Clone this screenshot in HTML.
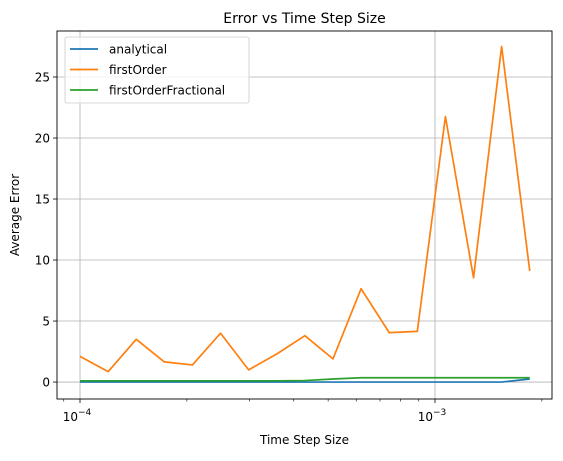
<!DOCTYPE html>
<html><head><meta charset="utf-8"><style>
body{margin:0;background:#fff;font-family:"DejaVu Sans","Liberation Sans",sans-serif;}
svg text{font-family:"DejaVu Sans","Liberation Sans",sans-serif;}
</style></head><body>
<svg id="chart" width="563" height="457" xmlns="http://www.w3.org/2000/svg"></svg>
<script>
const ks = [0,1,2,3,4,5,6,7,8,9,10,11,12,13,14,15,16];
const stepSizes = ks.map(k => 1e-4 * Math.pow(1.2, k));
const analytical = [0,0,0,0,0,0,0,0,0,0,0,0,0,0,0,0,0.25];
const firstOrder = [2.1,0.85,3.5,1.65,1.4,4.0,1.0,2.3,3.8,1.9,7.65,4.05,4.15,21.75,8.55,27.5,9.1];
const firstOrderFractional = [0.1,0.1,0.1,0.1,0.1,0.1,0.1,0.1,0.12,0.25,0.35,0.35,0.35,0.35,0.35,0.35,0.35];
const yTicks = [0,5,10,15,20,25];
const xMajor = [1e-4,1e-3];
const xMajorLabels = ["−4","−3"];

const L=57,R=552,T=31,B=399;
const lx0=-4.0648, lx1=-2.6704, y0=-1.39, y1=28.77;
const X=v=>L+(Math.log10(v)-lx0)/(lx1-lx0)*(R-L);
const Y=v=>B-(v-y0)/(y1-y0)*(B-T);
const svg=document.getElementById('chart');
const NS='http://www.w3.org/2000/svg';
function mk(tag,attrs,parent){const e=document.createElementNS(NS,tag);for(const k in attrs)e.setAttribute(k,attrs[k]);(parent||svg).appendChild(e);return e;}

yTicks.forEach(t=>{
  const g=mk('line',{x1:L,x2:R,y1:Y(t),y2:Y(t),stroke:'#b0b0b0','stroke-width':0.8});
  
  
});
xMajor.forEach(t=>{
  const g=mk('line',{x1:X(t),x2:X(t),y1:T,y2:B,stroke:'#b0b0b0','stroke-width':0.8});
  
  
});
for(let d=-5;d<=-2;d++){for(let m=2;m<=9;m++){const v=m*Math.pow(10,d);const x=X(v);if(x>=L&&x<=R){
  const t=mk('line',{x1:x,x2:x,y1:B,y2:B+2.5,stroke:'#000','stroke-width':0.6});
  
  
}}}
xMajor.forEach((t,i)=>{
  const x=X(t);
  const tk=mk('line',{x1:x,x2:x,y1:B,y2:B+4,stroke:'#000','stroke-width':0.8});
  
  
  const tx=mk('text',{x:x-3,y:B+22,'text-anchor':'middle','font-size':12,fill:'#000'});
  
  
  tx.innerHTML='10<tspan dy="-6" font-size="9">'+xMajorLabels[i]+'</tspan>';
});
yTicks.forEach(t=>{
  const y=Y(t);
  const tk=mk('line',{x1:L-4,x2:L,y1:y,y2:y,stroke:'#000','stroke-width':0.8});
  
  
  const tx=mk('text',{x:L-7,y:y+4.5,'text-anchor':'end','font-size':12,fill:'#000'});
  
  
  tx.textContent=t;
});
function series(vals,color,name){
  const p=mk('polyline',{points:vals.map((v,i)=>X(stepSizes[i])+','+Y(v)).join(' '),fill:'none',stroke:color,'stroke-width':1.7,'stroke-linejoin':'round'});
  
  
}
series(analytical,'#1f77b4','analytical-line');
series(firstOrder,'#ff7f0e','first-order-line');
series(firstOrderFractional,'#2ca02c','first-order-fractional-line');
const fr=mk('rect',{x:L,y:T,width:R-L,height:B-T,fill:'none',stroke:'#000','stroke-width':0.9});


const ti=mk('text',{x:(L+R)/2,y:T-8,'text-anchor':'middle','font-size':14,fill:'#000'});


ti.textContent='Error vs Time Step Size';
const xt=mk('text',{x:(L+R)/2,y:444,'text-anchor':'middle','font-size':12,fill:'#000'});


xt.textContent='Time Step Size';
const yt=mk('text',{x:0,y:0,'text-anchor':'middle','font-size':12,fill:'#000',transform:'translate(19,'+((T+B)/2)+') rotate(-90)'});


yt.textContent='Average Error';
const lg=mk('g',{});


mk('rect',{x:65,y:37,width:184,height:66,rx:2,fill:'#fff','fill-opacity':0.8,stroke:'#ccc','stroke-width':0.8},lg);
const names=['analytical','firstOrder','firstOrderFractional'];
const cols=['#1f77b4','#ff7f0e','#2ca02c'];
names.forEach((n,i)=>{
  const y=49+i*20.5;
  const ln=mk('line',{x1:70,x2:98,y1:y,y2:y,stroke:cols[i],'stroke-width':1.7},lg);
  
  
  const t=mk('text',{x:109,y:y+4.5,'font-size':12,fill:'#000'},lg);
  
  
  t.textContent=n;
});
</script>
</body></html>
